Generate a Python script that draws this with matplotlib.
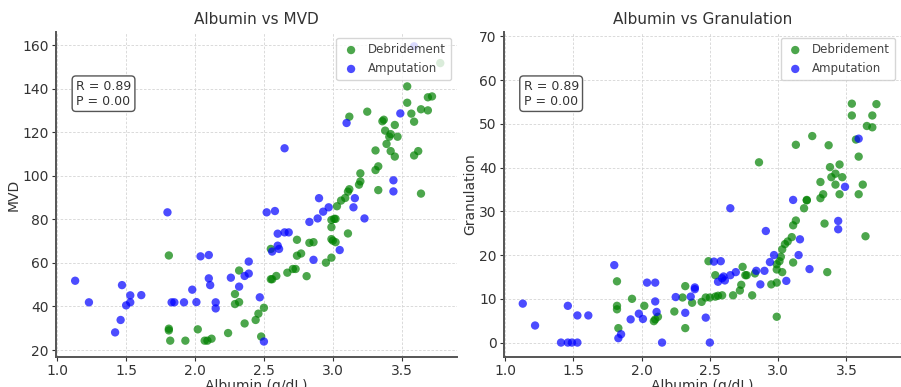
import numpy as np
import matplotlib
matplotlib.use("Agg")
from matplotlib import pyplot as plt

# Albumin vs MVD (left panel)
mvd_deb_alb = [1.81, 1.81, 1.81, 1.82, 1.93, 2.02, 2.07, 2.09, 2.12, 2.24, 2.29, 2.29, 2.32, 2.32,
               2.36, 2.44, 2.46, 2.48, 2.50, 2.55, 2.55, 2.56, 2.59, 2.67, 2.71, 2.73, 2.74, 2.74,
               2.77, 2.81, 2.83, 2.86, 2.95, 2.99, 2.99, 3.00, 3.02, 2.99, 2.99, 3.01, 3.02, 3.03,
               3.06, 3.09, 3.11, 3.12, 3.11, 3.19, 3.20, 3.20, 3.12, 3.25, 3.31, 3.33, 3.33, 3.31,
               3.36, 3.37, 3.38, 3.41, 3.42, 3.39, 3.42, 3.45, 3.47, 3.45, 3.54, 3.54, 3.57, 3.59,
               3.59, 3.62, 3.64, 3.64, 3.69, 3.69, 3.72, 3.78]
mvd_deb = [63.4, 29.8, 29.0, 24.3, 24.3, 29.5, 24.3, 24.3, 25.2, 27.8, 45.7, 41.1, 42.0, 56.5,
           32.2, 33.8, 36.7, 26.2, 39.4, 66.4, 52.5, 52.5, 54.0, 55.5, 57.2, 57.2, 70.6, 63.3,
           64.3, 53.9, 69.2, 69.5, 60.1, 62.4, 70.9, 70.2, 69.5, 76.4, 79.7, 80.2, 80.2, 86.0,
           88.6, 89.8, 92.7, 93.8, 73.5, 95.9, 97.4, 101.1, 127.1, 129.4, 102.6, 104.3, 93.4, 111.6,
           125.0, 125.7, 120.7, 117.9, 119.1, 114.6, 111.3, 123.3, 117.9, 108.8, 141.0, 133.5, 128.5, 124.8,
           109.3, 111.3, 91.8, 130.5, 130.0, 136.0, 136.4, 151.7]
mvd_amp_alb = [1.13, 1.23, 1.42, 1.46, 1.47, 1.50, 1.53, 1.53, 1.61, 1.80, 1.83, 1.85, 1.92, 1.98,
               2.01, 2.04, 2.10, 2.10, 2.11, 2.15, 2.15, 2.26, 2.32, 2.36, 2.39, 2.39, 2.47, 2.50,
               2.52, 2.56, 2.58, 2.60, 2.60, 2.61, 2.65, 2.65, 2.68, 2.83, 2.86, 2.89, 2.90, 2.93,
               2.97, 3.05, 3.10, 3.15, 3.16, 3.23, 3.44, 3.44, 3.49, 3.59]
mvd_amp = [51.8, 41.9, 28.1, 33.8, 49.8, 40.5, 41.9, 45.1, 45.2, 83.2, 41.9, 41.9, 41.9, 47.7,
           42.0, 63.0, 63.6, 52.9, 49.8, 41.9, 39.1, 53.2, 49.1, 54.0, 55.1, 60.6, 44.2, 23.9,
           83.2, 65.2, 83.8, 73.4, 67.9, 66.4, 112.6, 74.0, 74.0, 78.8, 61.4, 80.4, 89.7, 83.5,
           85.5, 65.9, 124.2, 85.5, 89.7, 80.4, 97.9, 92.8, 128.6, 159.4]

# Albumin vs Granulation (right panel)
gran_deb_alb = [1.82, 1.82, 1.82, 1.83, 1.93, 2.02, 2.09, 2.10, 2.12, 2.24, 2.30, 2.32, 2.32, 2.37,
                2.44, 2.47, 2.50, 2.49, 2.54, 2.54, 2.56, 2.59, 2.67, 2.72, 2.73, 2.74, 2.76, 2.77,
                2.81, 2.83, 2.86, 2.95, 2.99, 2.99, 2.99, 2.99, 3.01, 3.02, 3.03, 3.03, 3.05, 3.07,
                3.10, 3.11, 3.11, 3.13, 3.13, 3.19, 3.21, 3.21, 3.25, 3.31, 3.33, 3.34, 3.36, 3.31,
                3.37, 3.38, 3.39, 3.42, 3.42, 3.45, 3.47, 3.45, 3.54, 3.54, 3.57, 3.59, 3.59, 3.62,
                3.64, 3.65, 3.69, 3.69, 3.72]
gran_deb = [14.0, 8.4, 7.6, 3.3, 10.0, 8.4, 4.9, 5.3, 5.9, 7.1, 10.3, 12.9, 3.3, 9.1,
            9.3, 10.3, 10.3, 18.6, 15.4, 10.5, 10.7, 10.8, 10.8, 11.9, 13.2, 17.3, 15.4, 15.4,
            10.8, 15.8, 41.2, 13.3, 13.7, 5.9, 16.7, 17.9, 18.6, 19.6, 16.1, 21.3, 22.5, 23.1,
            24.1, 18.3, 26.8, 27.9, 45.2, 30.7, 32.5, 32.6, 47.2, 33.0, 33.9, 27.2, 16.1, 36.7,
            45.1, 40.1, 37.8, 38.6, 36.1, 40.7, 37.8, 33.9, 54.6, 51.9, 46.4, 42.5, 33.9, 36.1,
            24.3, 49.5, 49.2, 51.9, 54.5]
gran_amp_alb = [1.13, 1.22, 1.41, 1.46, 1.46, 1.49, 1.53, 1.53, 1.61, 1.80, 1.83, 1.85, 1.92, 1.98,
                2.01, 2.04, 2.10, 2.10, 2.11, 2.15, 2.25, 2.32, 2.36, 2.39, 2.39, 2.47, 2.50, 2.53,
                2.56, 2.58, 2.59, 2.60, 2.61, 2.65, 2.65, 2.69, 2.84, 2.87, 2.90, 2.91, 2.94, 2.97,
                3.06, 3.11, 3.15, 3.16, 3.23, 3.44, 3.44, 3.49, 3.59]
gran_amp = [8.9, 3.9, 0, 0, 8.4, 0, 0, 6.2, 6.2, 17.7, 1.0, 1.9, 5.3, 6.6,
            5.4, 13.7, 13.7, 9.4, 7.0, 0, 10.4, 6.8, 10.5, 12.6, 12.2, 5.7, 0, 18.5,
            13.9, 18.6, 14.7, 15.1, 14.2, 30.7, 15.4, 16.1, 16.4, 13.3, 16.4, 25.5, 18.4, 20.0,
            14.1, 32.6, 20.0, 23.6, 16.8, 27.8, 25.9, 35.6, 46.6]

r_text = "R = 0.89\nP = 0.00"

fig = plt.figure(figsize=(9.01, 3.87), dpi=100)
ax1 = fig.add_axes([0.062, 0.0775, 0.445, 0.84])
ax2 = fig.add_axes([0.559, 0.0775, 0.441, 0.84])

panels = [
    (ax1, mvd_deb_alb, mvd_deb, mvd_amp_alb, mvd_amp, "Albumin vs MVD", "MVD", (16.8, 166), [20, 40, 60, 80, 100, 120, 140, 160]),
    (ax2, gran_deb_alb, gran_deb, gran_amp_alb, gran_amp, "Albumin vs Granulation", "Granulation", (-3.3, 71), [0, 10, 20, 30, 40, 50, 60, 70]),
]

for ax, xd, yd, xa, ya, title, ylab, ylim, yticks in panels:
    ax.scatter(xd, yd, s=36, color="green", alpha=0.7, edgecolors="none", label="Debridement", zorder=3)
    ax.scatter(xa, ya, s=36, color="blue", alpha=0.7, edgecolors="none", label="Amputation", zorder=3)
    ax.set_xlim(0.99, 3.9)
    ax.set_ylim(*ylim)
    ax.set_xticks([1.0, 1.5, 2.0, 2.5, 3.0, 3.5])
    ax.set_yticks(yticks)
    ax.set_title(title, fontsize=11, color="#333333", pad=6)
    ax.set_xlabel("Albumin (g/dL)", fontsize=10, color="#333333", labelpad=1)
    ax.set_ylabel(ylab, fontsize=10, color="#333333", labelpad=1)
    ax.grid(True, linestyle=(0, (3, 2)), color="#d4d4d4", linewidth=0.6)
    ax.set_axisbelow(True)
    for s in ["top", "right"]:
        ax.spines[s].set_visible(False)
    for s in ["left", "bottom"]:
        ax.spines[s].set_color("#555555")
        ax.spines[s].set_linewidth(1.4)
    ax.tick_params(labelsize=10, colors="#333333", length=3, pad=2)
    ax.legend(loc="upper right", fontsize=8.5, frameon=True, labelcolor="#444444",
              handletextpad=0.6, borderpad=0.45, handlelength=1.6)
    ax.text(0.05, 0.81, r_text, transform=ax.transAxes, fontsize=9, color="#333333",
            va="center", ha="left",
            bbox=dict(boxstyle="round", facecolor="white", edgecolor="#555555"))

fig.savefig("out.png", dpi=100)
